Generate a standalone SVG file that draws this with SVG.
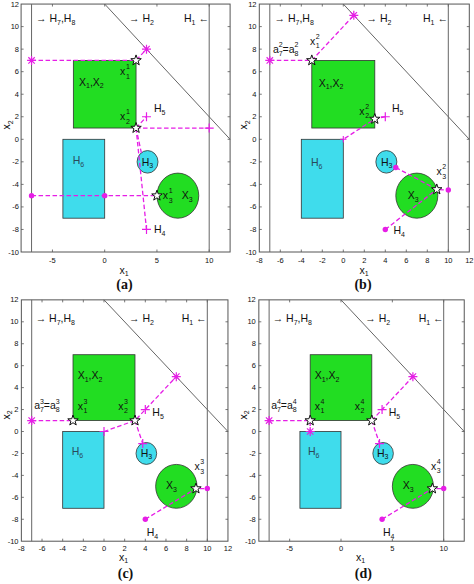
<svg xmlns="http://www.w3.org/2000/svg" width="474" height="584" viewBox="0 0 474 584">
<style>
text{font-family:"Liberation Sans",Arial,sans-serif;fill:#111}
.lb{font-size:10.5px}
.s{font-size:7px}
.tk{font-size:7.5px;fill:#333}
.tr{text-anchor:end}
.tm{text-anchor:middle}
.cap{font-family:"Liberation Serif","Times New Roman",serif;font-weight:bold;font-size:14px;text-anchor:middle}
.axes{fill:#fff;stroke:#555;stroke-width:1}
.tick{fill:none;stroke:#555;stroke-width:0.8}
.ref{stroke:#666;stroke-width:1;fill:none}
.green{fill:#22dd22;stroke:#333;stroke-width:0.8}
.cyan{fill:#3fdcec;stroke:#333;stroke-width:0.8}
.dash{fill:none;stroke:#e61ee6;stroke-width:1.3;stroke-dasharray:4.5 2.5}
</style>
<defs>
<g id="ast"><path d="M-4.5 0H4.5M0 -4.5V4.5M-3.2 -3.2L3.2 3.2M-3.2 3.2L3.2 -3.2" stroke="#e61ee6" stroke-width="1.2" fill="none"/></g>
<g id="plus"><path d="M-4.5 0H4.5M0 -4.5V4.5" stroke="#e61ee6" stroke-width="1.2" fill="none"/></g>
<g id="plus-s"><path d="M-3.2 0H3.2M0 -3.2V3.2" stroke="#e61ee6" stroke-width="1.1" fill="none"/></g>
<circle id="dot" r="2.7" fill="#e61ee6"/>
<polygon id="star" points="0,-5.5 1.29,-1.78 5.23,-1.7 2.09,0.68 3.23,4.45 0,2.2 -3.23,4.45 -2.09,0.68 -5.23,-1.7 -1.29,-1.78" fill="#fff" stroke="#111" stroke-width="1"/>
</defs>

<!-- ================= Panel (a) ================= -->
<g id="panel-a">
<rect class="axes" x="21.1" y="4.06" width="209" height="247.94"/>
<path class="tick" d="M21.1 26.6h2.5M21.1 49.14h2.5M21.1 71.68h2.5M21.1 94.22h2.5M21.1 116.76h2.5M21.1 139.3h2.5M21.1 161.84h2.5M21.1 184.38h2.5M21.1 206.92h2.5M21.1 229.46h2.5M230.1 26.6h-2.5M230.1 49.14h-2.5M230.1 71.68h-2.5M230.1 94.22h-2.5M230.1 116.76h-2.5M230.1 139.3h-2.5M230.1 161.84h-2.5M230.1 184.38h-2.5M230.1 206.92h-2.5M230.1 229.46h-2.5M52.45 252v-2.5M104.7 252v-2.5M156.95 252v-2.5M209.2 252v-2.5M52.45 4.06v2.5M104.7 4.06v2.5M156.95 4.06v2.5M209.2 4.06v2.5"/>
<g class="tk tr">
<text x="19" y="6.8">12</text><text x="19" y="29.1">10</text><text x="19" y="51.6">8</text><text x="19" y="74.2">6</text><text x="19" y="96.7">4</text><text x="19" y="119.3">2</text><text x="19" y="141.8">0</text><text x="19" y="164.3">-2</text><text x="19" y="186.9">-4</text><text x="19" y="209.4">-6</text><text x="19" y="232">-8</text><text x="19" y="254.5">-10</text>
</g>
<g class="tk tm">
<text x="52.45" y="262.5">-5</text><text x="104.7" y="262.5">0</text><text x="156.95" y="262.5">5</text><text x="209.2" y="262.5">10</text>
</g>
<g id="a-H7H8"><line class="ref" x1="31.55" y1="4.06" x2="31.55" y2="252"/><text class="lb" x="36" y="22">→ H<tspan class="s" dy="2.5">7</tspan><tspan dy="-2.5">,H</tspan><tspan class="s" dy="2.5">8</tspan></text></g>
<g id="a-H1"><line class="ref" x1="209.2" y1="4.06" x2="209.2" y2="252"/><text class="lb" x="184" y="22">H<tspan class="s" dy="2.5">1</tspan><tspan dy="-2.5"> ←</tspan></text></g>
<g id="a-H2"><line class="ref" x1="104.7" y1="4.06" x2="230.1" y2="139.3"/><text class="lb" x="129" y="22">→ H<tspan class="s" dy="2.5">2</tspan></text></g>
<g id="a-X1X2"><rect class="green" x="73.35" y="60.41" width="62.7" height="67.62"/><text class="lb" x="79" y="85.7">X<tspan class="s" dy="2.5">1</tspan><tspan dy="-2.5">,X</tspan><tspan class="s" dy="2.5">2</tspan></text></g>
<g id="a-H6"><rect class="cyan" x="62.9" y="139.3" width="41.8" height="78.89"/><text class="lb" x="72.7" y="164" style="fill:#2a4a5a">H<tspan class="s" dy="2.5">6</tspan></text></g>
<g id="a-H3"><ellipse class="cyan" cx="147.55" cy="161.84" rx="10.45" ry="11.27"/></g>
<g id="a-X3"><ellipse class="green" cx="177.85" cy="195.65" rx="20.9" ry="22.54"/><text class="lb" x="181.7" y="199">X<tspan class="s" dy="2.5">3</tspan></text></g>
<g id="a-connectors" class="dash">
<path d="M31.55 60.41H136.05L146.5 49.14"/>
<path d="M136.05 128.03L146.5 116.76"/>
<path d="M136.05 128.03H209.2"/>
<path d="M136.05 128.03L146.5 229.46"/>
<path d="M136.05 128.03L141.5 153.5"/>
<path d="M31.55 195.65H156.95"/>
</g>
<g id="a-markers">
<use href="#ast" x="31.55" y="60.41"/><use href="#ast" x="146.5" y="49.14"/>
<use href="#plus" x="146.5" y="116.76"/><use href="#plus" x="209.2" y="128.03"/><use href="#plus" x="146.5" y="229.46"/>
<use href="#dot" x="31.55" y="195.65"/><use href="#dot" x="104.7" y="195.65"/>
<use href="#star" x="136.05" y="60.41"/><use href="#star" x="136.05" y="128.03"/><use href="#star" x="156.95" y="195.65"/>
</g>
<g id="a-labels" class="lb">
<text x="120" y="75.3">x<tspan class="s" x="126" y="68.5">1</tspan><tspan class="s" x="126" y="79">1</tspan></text>
<text x="120" y="120">x<tspan class="s" x="126" y="113.5">1</tspan><tspan class="s" x="126" y="124">2</tspan></text>
<text x="154" y="112.3">H<tspan class="s" dy="2.5">5</tspan></text>
<text x="141.7" y="165.7">H<tspan class="s" dy="2.5">3</tspan></text>
<text x="162.7" y="199.3">x<tspan class="s" x="168.8" y="192.7">1</tspan><tspan class="s" x="168.8" y="203.3">3</tspan></text>
<text x="154" y="233.3">H<tspan class="s" dy="2.5">4</tspan></text>
</g>
<text class="lb tm" x="124" y="273.5">x<tspan class="s" dy="2.5">1</tspan></text>
<text class="lb tm" x="10" y="125" transform="rotate(-90 10 125)">x<tspan class="s" dy="2.5">2</tspan></text>
<text class="cap" x="124.5" y="289">(a)</text>
</g>

<!-- ================= Panel (b) ================= -->
<g id="panel-b">
<rect class="axes" x="259.3" y="4.06" width="210" height="247.94"/>
<path class="tick" d="M259.3 26.6h2.5M259.3 49.14h2.5M259.3 71.68h2.5M259.3 94.22h2.5M259.3 116.76h2.5M259.3 139.3h2.5M259.3 161.84h2.5M259.3 184.38h2.5M259.3 206.92h2.5M259.3 229.46h2.5M469.3 26.6h-2.5M469.3 49.14h-2.5M469.3 71.68h-2.5M469.3 94.22h-2.5M469.3 116.76h-2.5M469.3 139.3h-2.5M469.3 161.84h-2.5M469.3 184.38h-2.5M469.3 206.92h-2.5M469.3 229.46h-2.5M280.3 252v-2.5M301.3 252v-2.5M322.3 252v-2.5M343.3 252v-2.5M364.3 252v-2.5M385.3 252v-2.5M406.3 252v-2.5M427.3 252v-2.5M448.3 252v-2.5M280.3 4.06v2.5M301.3 4.06v2.5M322.3 4.06v2.5M343.3 4.06v2.5M364.3 4.06v2.5M385.3 4.06v2.5M406.3 4.06v2.5M427.3 4.06v2.5M448.3 4.06v2.5"/>
<g class="tk tr">
<text x="256.5" y="6.8">12</text><text x="256.5" y="29.1">10</text><text x="256.5" y="51.6">8</text><text x="256.5" y="74.2">6</text><text x="256.5" y="96.7">4</text><text x="256.5" y="119.3">2</text><text x="256.5" y="141.8">0</text><text x="256.5" y="164.3">-2</text><text x="256.5" y="186.9">-4</text><text x="256.5" y="209.4">-6</text><text x="256.5" y="232">-8</text><text x="256.5" y="254.5">-10</text>
</g>
<g class="tk tm">
<text x="259.3" y="262.5">-8</text><text x="280.3" y="262.5">-6</text><text x="301.3" y="262.5">-4</text><text x="322.3" y="262.5">-2</text><text x="343.3" y="262.5">0</text><text x="364.3" y="262.5">2</text><text x="385.3" y="262.5">4</text><text x="406.3" y="262.5">6</text><text x="427.3" y="262.5">8</text><text x="448.3" y="262.5">10</text><text x="469.3" y="262.5">12</text>
</g>
<g id="b-H7H8"><line class="ref" x1="269.8" y1="4.06" x2="269.8" y2="252"/><text class="lb" x="274.5" y="22">→ H<tspan class="s" dy="2.5">7</tspan><tspan dy="-2.5">,H</tspan><tspan class="s" dy="2.5">8</tspan></text></g>
<g id="b-H1"><line class="ref" x1="448.3" y1="4.06" x2="448.3" y2="252"/><text class="lb" x="423" y="22">H<tspan class="s" dy="2.5">1</tspan><tspan dy="-2.5"> ←</tspan></text></g>
<g id="b-H2"><line class="ref" x1="343.3" y1="4.06" x2="469.3" y2="139.3"/><text class="lb" x="366.5" y="22">→ H<tspan class="s" dy="2.5">2</tspan></text></g>
<g id="b-X1X2"><rect class="green" x="311.8" y="60.41" width="63" height="67.62"/><text class="lb" x="318.7" y="86.7">X<tspan class="s" dy="2.5">1</tspan><tspan dy="-2.5">,X</tspan><tspan class="s" dy="2.5">2</tspan></text></g>
<g id="b-H6"><rect class="cyan" x="301.3" y="139.3" width="42" height="78.89"/><text class="lb" x="311" y="166" style="fill:#2a4a5a">H<tspan class="s" dy="2.5">6</tspan></text></g>
<g id="b-H3"><ellipse class="cyan" cx="386.35" cy="161.84" rx="10.5" ry="11.27"/></g>
<g id="b-X3"><ellipse class="green" cx="416.8" cy="195.65" rx="21" ry="22.54"/><text class="lb" x="407.7" y="199.3">X<tspan class="s" dy="2.5">3</tspan></text></g>
<g id="b-connectors" class="dash">
<path d="M269.8 60.41H311.8L353.8 15.33"/>
<path d="M385.3 116.76L374.8 119L343.3 139.3"/>
<path d="M395.8 167.5L436.75 189.45L448.3 190"/>
<path d="M385.3 229.46L436.75 189.45"/>
</g>
<g id="b-markers">
<use href="#ast" x="269.8" y="60.41"/><use href="#ast" x="353.8" y="15.33"/>
<use href="#plus" x="385.3" y="116.76"/><use href="#plus-s" x="343.3" y="139.3"/>
<use href="#dot" x="395.8" y="167.5"/><use href="#dot" x="448.3" y="190"/><use href="#dot" x="385.3" y="229.46"/>
<use href="#star" x="311.8" y="60.41"/><use href="#star" x="374.8" y="119"/><use href="#star" x="436.75" y="189.45"/>
</g>
<g id="b-labels" class="lb">
<text x="273" y="52.5">a<tspan class="s" x="278.8" y="47">2</tspan><tspan class="s" x="278.8" y="55.5">7</tspan><tspan x="282.5" y="52.5">=a</tspan><tspan class="s" x="294.4" y="47">2</tspan><tspan class="s" x="294.4" y="55.5">8</tspan></text>
<text x="310" y="45">x<tspan class="s" x="315.8" y="39">2</tspan><tspan class="s" x="315.8" y="48.3">1</tspan></text>
<text x="359.3" y="114.5">x<tspan class="s" x="365.2" y="108.5">2</tspan><tspan class="s" x="365.2" y="118">2</tspan></text>
<text x="392" y="112.3">H<tspan class="s" dy="2.5">5</tspan></text>
<text x="381" y="165.7">H<tspan class="s" dy="2.5">3</tspan></text>
<text x="436.5" y="175">x<tspan class="s" x="442.3" y="169">2</tspan><tspan class="s" x="442.3" y="179">3</tspan></text>
<text x="393.5" y="234">H<tspan class="s" dy="2.5">4</tspan></text>
</g>
<text class="lb tm" x="364" y="273.5">x<tspan class="s" dy="2.5">1</tspan></text>
<text class="lb tm" x="247" y="125" transform="rotate(-90 247 125)">x<tspan class="s" dy="2.5">2</tspan></text>
<text class="cap" x="363" y="289">(b)</text>
</g>

<!-- ================= Panel (c) ================= -->
<g id="panel-c">
<rect class="axes" x="21.36" y="299.86" width="206.6" height="241.34"/>
<path class="tick" d="M21.36 321.8h2.5M21.36 343.74h2.5M21.36 365.68h2.5M21.36 387.62h2.5M21.36 409.56h2.5M21.36 431.5h2.5M21.36 453.44h2.5M21.36 475.38h2.5M21.36 497.32h2.5M21.36 519.26h2.5M227.96 321.8h-2.5M227.96 343.74h-2.5M227.96 365.68h-2.5M227.96 387.62h-2.5M227.96 409.56h-2.5M227.96 431.5h-2.5M227.96 453.44h-2.5M227.96 475.38h-2.5M227.96 497.32h-2.5M227.96 519.26h-2.5M42.02 541.2v-2.5M62.68 541.2v-2.5M83.34 541.2v-2.5M104 541.2v-2.5M124.66 541.2v-2.5M145.32 541.2v-2.5M165.98 541.2v-2.5M186.64 541.2v-2.5M207.3 541.2v-2.5M42.02 299.86v2.5M62.68 299.86v2.5M83.34 299.86v2.5M104 299.86v2.5M124.66 299.86v2.5M145.32 299.86v2.5M165.98 299.86v2.5M186.64 299.86v2.5M207.3 299.86v2.5"/>
<g class="tk tr">
<text x="18.5" y="302.4">12</text><text x="18.5" y="324.3">10</text><text x="18.5" y="346.2">8</text><text x="18.5" y="368.2">6</text><text x="18.5" y="390.1">4</text><text x="18.5" y="412.1">2</text><text x="18.5" y="434">0</text><text x="18.5" y="455.9">-2</text><text x="18.5" y="477.9">-4</text><text x="18.5" y="499.8">-6</text><text x="18.5" y="521.8">-8</text><text x="18.5" y="543.7">-10</text>
</g>
<g class="tk tm">
<text x="21.36" y="550.5">-8</text><text x="42.02" y="550.5">-6</text><text x="62.68" y="550.5">-4</text><text x="83.34" y="550.5">-2</text><text x="104" y="550.5">0</text><text x="124.66" y="550.5">2</text><text x="145.32" y="550.5">4</text><text x="165.98" y="550.5">6</text><text x="186.64" y="550.5">8</text><text x="207.3" y="550.5">10</text><text x="227.96" y="550.5">12</text>
</g>
<g id="c-H7H8"><line class="ref" x1="31.69" y1="299.86" x2="31.69" y2="541.2"/><text class="lb" x="35.7" y="322">→ H<tspan class="s" dy="2.5">7</tspan><tspan dy="-2.5">,H</tspan><tspan class="s" dy="2.5">8</tspan></text></g>
<g id="c-H1"><line class="ref" x1="207.3" y1="299.86" x2="207.3" y2="541.2"/><text class="lb" x="181.7" y="322">H<tspan class="s" dy="2.5">1</tspan><tspan dy="-2.5"> ←</tspan></text></g>
<g id="c-H2"><line class="ref" x1="104" y1="299.86" x2="227.96" y2="431.5"/><text class="lb" x="129" y="322">→ H<tspan class="s" dy="2.5">2</tspan></text></g>
<g id="c-X1X2"><rect class="green" x="73.01" y="354.71" width="61.98" height="65.82"/><text class="lb" x="77.7" y="379">X<tspan class="s" dy="2.5">1</tspan><tspan dy="-2.5">,X</tspan><tspan class="s" dy="2.5">2</tspan></text></g>
<g id="c-H6"><rect class="cyan" x="62.68" y="431.5" width="41.32" height="76.79"/><text class="lb" x="71.7" y="455.3" style="fill:#2a4a5a">H<tspan class="s" dy="2.5">6</tspan></text></g>
<g id="c-H3"><ellipse class="cyan" cx="146.35" cy="453.44" rx="10.33" ry="10.97"/></g>
<g id="c-X3"><ellipse class="green" cx="176.31" cy="486.35" rx="20.66" ry="21.94"/><text class="lb" x="166" y="489.3">X<tspan class="s" dy="2.5">3</tspan></text></g>
<g id="c-connectors" class="dash">
<path d="M31.69 420.53H73.01"/>
<path d="M104 431.5L134.99 420.53L145.32 409.56L176.31 376.65"/>
<path d="M134.99 420.53L142.74 443.57"/>
<path d="M145.32 519.26L195.94 488.54H207.3"/>
</g>
<g id="c-markers">
<use href="#ast" x="31.69" y="420.53"/><use href="#ast" x="176.31" y="376.65"/>
<use href="#plus" x="104" y="431.5"/><use href="#plus" x="145.32" y="409.56"/><use href="#plus" x="142.74" y="443.57"/>
<use href="#dot" x="145.32" y="519.26"/><use href="#dot" x="207.3" y="488.54"/>
<use href="#star" x="73.01" y="420.53"/><use href="#star" x="134.99" y="420.53"/><use href="#star" x="195.94" y="488.54"/>
</g>
<g id="c-labels" class="lb">
<text x="34.3" y="409.3">a<tspan class="s" x="40.1" y="404">3</tspan><tspan class="s" x="40.1" y="412.3">7</tspan><tspan x="43.8" y="409.3">=a</tspan><tspan class="s" x="55.7" y="404">3</tspan><tspan class="s" x="55.7" y="412.3">8</tspan></text>
<text x="77.7" y="410">x<tspan class="s" x="83.5" y="404">3</tspan><tspan class="s" x="83.5" y="413">1</tspan></text>
<text x="118.3" y="410">x<tspan class="s" x="124.1" y="404">3</tspan><tspan class="s" x="124.1" y="413">2</tspan></text>
<text x="152.3" y="416">H<tspan class="s" dy="2.5">5</tspan></text>
<text x="140.7" y="456.7">H<tspan class="s" dy="2.5">3</tspan></text>
<text x="194.5" y="470">x<tspan class="s" x="200.3" y="464.3">3</tspan><tspan class="s" x="200.3" y="473.5">3</tspan></text>
<text x="146.7" y="536">H<tspan class="s" dy="2.5">4</tspan></text>
</g>
<text class="lb tm" x="123.5" y="560.5">x<tspan class="s" dy="2.5">1</tspan></text>
<text class="lb tm" x="9.5" y="415" transform="rotate(-90 9.5 415)">x<tspan class="s" dy="2.5">2</tspan></text>
<text class="cap" x="125.5" y="578">(c)</text>
</g>

<!-- ================= Panel (d) ================= -->
<g id="panel-d">
<rect class="axes" x="258.84" y="299.86" width="205.4" height="241.34"/>
<path class="tick" d="M258.84 321.8h2.5M258.84 343.74h2.5M258.84 365.68h2.5M258.84 387.62h2.5M258.84 409.56h2.5M258.84 431.5h2.5M258.84 453.44h2.5M258.84 475.38h2.5M258.84 497.32h2.5M258.84 519.26h2.5M464.24 321.8h-2.5M464.24 343.74h-2.5M464.24 365.68h-2.5M464.24 387.62h-2.5M464.24 409.56h-2.5M464.24 431.5h-2.5M464.24 453.44h-2.5M464.24 475.38h-2.5M464.24 497.32h-2.5M464.24 519.26h-2.5M289.65 541.2v-2.5M341 541.2v-2.5M392.35 541.2v-2.5M443.7 541.2v-2.5M289.65 299.86v2.5M341 299.86v2.5M392.35 299.86v2.5M443.7 299.86v2.5"/>
<g class="tk tr">
<text x="255.8" y="302.4">12</text><text x="255.8" y="324.3">10</text><text x="255.8" y="346.2">8</text><text x="255.8" y="368.2">6</text><text x="255.8" y="390.1">4</text><text x="255.8" y="412.1">2</text><text x="255.8" y="434">0</text><text x="255.8" y="455.9">-2</text><text x="255.8" y="477.9">-4</text><text x="255.8" y="499.8">-6</text><text x="255.8" y="521.8">-8</text><text x="255.8" y="543.7">-10</text>
</g>
<g class="tk tm">
<text x="289.65" y="550.5">-5</text><text x="341" y="550.5">0</text><text x="392.35" y="550.5">5</text><text x="443.7" y="550.5">10</text>
</g>
<g id="d-H7H8"><line class="ref" x1="269.11" y1="299.86" x2="269.11" y2="541.2"/><text class="lb" x="272.7" y="322">→ H<tspan class="s" dy="2.5">7</tspan><tspan dy="-2.5">,H</tspan><tspan class="s" dy="2.5">8</tspan></text></g>
<g id="d-H1"><line class="ref" x1="443.7" y1="299.86" x2="443.7" y2="541.2"/><text class="lb" x="418.7" y="322">H<tspan class="s" dy="2.5">1</tspan><tspan dy="-2.5"> ←</tspan></text></g>
<g id="d-H2"><line class="ref" x1="341" y1="299.86" x2="464.24" y2="431.5"/><text class="lb" x="365.3" y="322">→ H<tspan class="s" dy="2.5">2</tspan></text></g>
<g id="d-X1X2"><rect class="green" x="310.19" y="354.71" width="61.62" height="65.82"/><text class="lb" x="314.7" y="379">X<tspan class="s" dy="2.5">1</tspan><tspan dy="-2.5">,X</tspan><tspan class="s" dy="2.5">2</tspan></text></g>
<g id="d-H6"><rect class="cyan" x="299.92" y="431.5" width="41.08" height="76.79"/><text class="lb" x="308" y="455.3" style="fill:#2a4a5a">H<tspan class="s" dy="2.5">6</tspan></text></g>
<g id="d-H3"><ellipse class="cyan" cx="383.1" cy="453.44" rx="10.27" ry="10.97"/></g>
<g id="d-X3"><ellipse class="green" cx="412.89" cy="486.35" rx="20.54" ry="21.94"/><text class="lb" x="402.7" y="489.3">X<tspan class="s" dy="2.5">3</tspan></text></g>
<g id="d-connectors" class="dash">
<path d="M269.11 420.53H310.19V431.5"/>
<path d="M371.81 420.53L382.08 409.56L412.89 376.65"/>
<path d="M371.81 420.53L379.51 443.57"/>
<path d="M382.08 519.26L432.4 488.54H443.7"/>
</g>
<g id="d-markers">
<use href="#ast" x="269.11" y="420.53"/><use href="#ast" x="310.19" y="431.5"/><use href="#ast" x="412.89" y="376.65"/>
<use href="#plus" x="382.08" y="409.56"/><use href="#plus" x="379.51" y="443.57"/>
<use href="#dot" x="382.08" y="519.26"/><use href="#dot" x="443.7" y="488.54"/>
<use href="#star" x="310.19" y="420.53"/><use href="#star" x="371.81" y="420.53"/><use href="#star" x="432.4" y="488.54"/>
</g>
<g id="d-labels" class="lb">
<text x="271.3" y="409.3">a<tspan class="s" x="277.1" y="404">4</tspan><tspan class="s" x="277.1" y="412.3">7</tspan><tspan x="280.8" y="409.3">=a</tspan><tspan class="s" x="292.7" y="404">4</tspan><tspan class="s" x="292.7" y="412.3">8</tspan></text>
<text x="314.7" y="410">x<tspan class="s" x="320.5" y="404">4</tspan><tspan class="s" x="320.5" y="413">1</tspan></text>
<text x="354.7" y="410">x<tspan class="s" x="360.5" y="404">4</tspan><tspan class="s" x="360.5" y="413">2</tspan></text>
<text x="388.7" y="416">H<tspan class="s" dy="2.5">5</tspan></text>
<text x="377" y="456.7">H<tspan class="s" dy="2.5">3</tspan></text>
<text x="431" y="469.5">x<tspan class="s" x="436.8" y="463.7">4</tspan><tspan class="s" x="436.8" y="473">3</tspan></text>
<text x="383" y="536">H<tspan class="s" dy="2.5">4</tspan></text>
</g>
<text class="lb tm" x="360.5" y="560.5">x<tspan class="s" dy="2.5">1</tspan></text>
<text class="lb tm" x="246.5" y="415" transform="rotate(-90 246.5 415)">x<tspan class="s" dy="2.5">2</tspan></text>
<text class="cap" x="363.3" y="578">(d)</text>
</g>
</svg>
